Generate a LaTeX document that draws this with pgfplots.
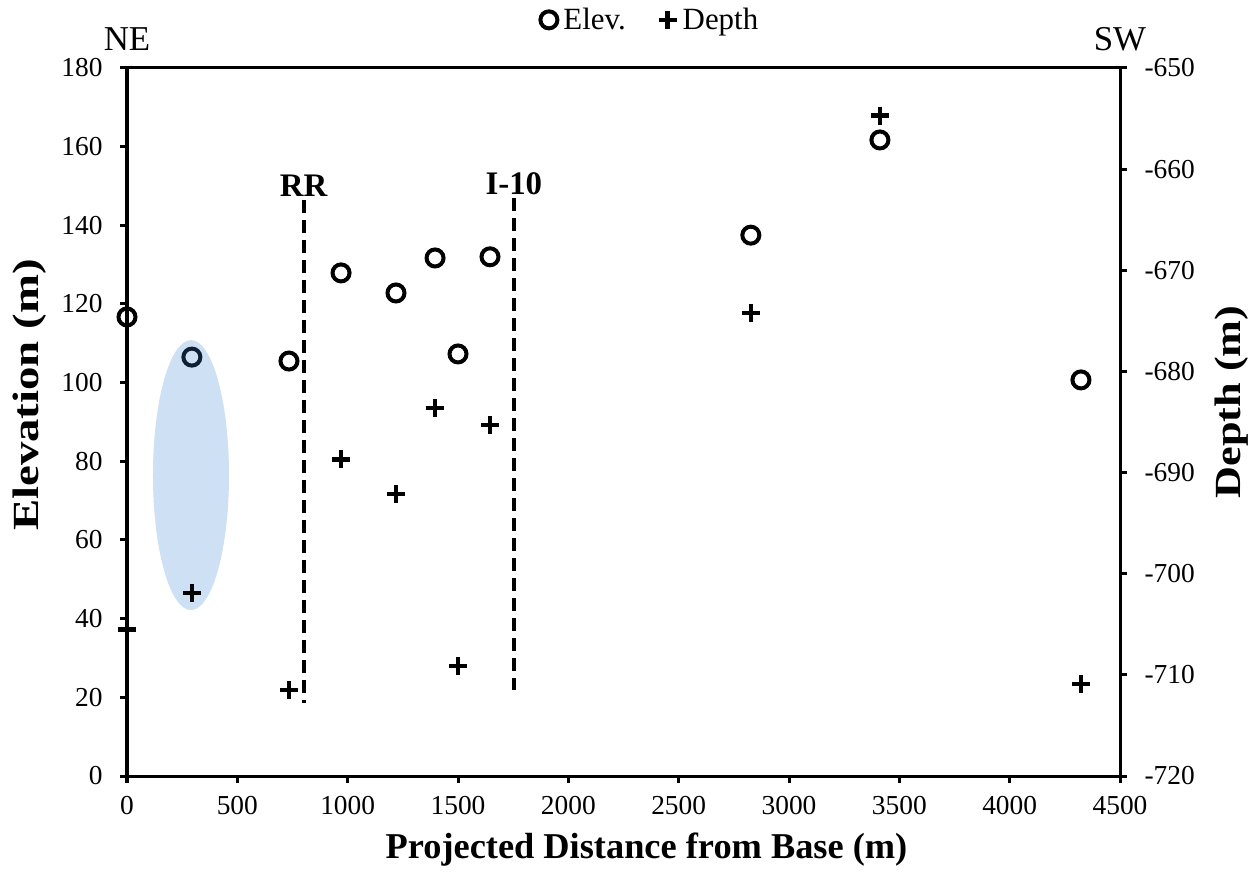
\documentclass[border=0pt]{standalone}
\usepackage{fontspec}
\setmainfont{Liberation Serif}
\usepackage{pgfplots}
\pgfplotsset{compat=1.18}
\definecolor{ellfill}{RGB}{60,130,210}
\begin{document}
\begin{tikzpicture}
\path[use as bounding box] (-127bp,-99bp) rectangle (1130bp,776bp);
\pgfplotsset{
  every axis/.append style={
    scale only axis, width=993bp, height=708bp,
    at={(0,0)}, anchor=south west,
    xmin=0, xmax=4500,
    tick style={line width=3bp, black},
    major tick length=7bp,
    tick align=outside,
    axis line style={line width=3bp},
    tick label style={font=\fontsize{27.5}{29}\selectfont},
    /pgf/number format/assume math mode=true,
    /pgf/number format/1000 sep={},
  },
  elevmark/.style={only marks, mark=o, mark size=8.5bp, mark options={line width=4bp, black}},
  depthmark/.style={only marks, mark=+, mark size=9bp, mark options={line width=4.5bp, black}},
}
\begin{axis}[
  axis y line*=left, axis x line*=bottom,
  ymin=0, ymax=180, ytick={0,20,...,180},
  xtick={0,500,...,4500},
  yticklabel style={xshift=-14bp},
  xticklabel style={yshift=-10bp},
  clip=false,
]
\draw[line width=3bp] (rel axis cs:0,1) -- (rel axis cs:1,1);
\addplot[elevmark] coordinates {
(0,116.7) (294,106.5) (734,105.5) (970,127.9) (1219,122.8) (1396,131.7)
(1500,107.3) (1645,132.0) (2827,137.5) (3412,161.7) (4323,100.7)};
\addplot[black, line width=4bp, dash pattern=on 13bp off 7bp] coordinates {(800,146.4) (800,18.6)};
\addplot[black, line width=4bp, dash pattern=on 13bp off 7bp] coordinates {(1753,146.9) (1753,21.9)};
\node[anchor=south, font=\fontsize{33}{35}\selectfont\bfseries, inner sep=3bp] at (axis cs:800,146.4) {RR};
\node[anchor=south, font=\fontsize{33}{35}\selectfont\bfseries, inner sep=3bp] at (axis cs:1753,146.9) {I-10};
\node[font=\fontsize{35}{37}\selectfont] at ([yshift=29bp]rel axis cs:0,1) {NE};
\node[font=\fontsize{35}{37}\selectfont] at ([yshift=29bp]rel axis cs:1,1) {SW};
\end{axis}
\begin{axis}[
  axis y line*=right, axis x line=none,
  ymin=-720, ymax=-650, ytick={-720,-710,...,-650},
  yticklabels={-720,-710,-700,-690,-680,-670,-660,-650},
  yticklabel style={xshift=14bp},
  legend style={at={(0.527,1.068)}, anchor=center, draw=none, fill=none,
    font=\fontsize{31}{33}\selectfont, legend columns=2,
    /tikz/every even column/.append style={column sep=31bp},
    /tikz/every odd column/.append style={column sep=4bp}},
  legend cell align=left,
]
\addlegendimage{elevmark}
\addlegendentry{Elev.}
\addplot[depthmark] coordinates {
(0,-705.5) (294,-701.9) (734,-711.5) (970,-688.7) (1219,-692.1) (1396,-683.6)
(1500,-709.1) (1645,-685.3) (2827,-674.2) (3412,-654.7) (4323,-710.9)};
\addlegendentry{Depth}
\fill[ellfill, fill opacity=0.25] (axis cs:290,-690.25) ellipse [x radius=38bp, y radius=135bp];
\end{axis}
\node[rotate=90, font=\fontsize{37}{39}\selectfont\bfseries] at (-97bp,381bp) {\scalebox{1.27}[1]{Elevation (m)}};
\node[rotate=90, font=\fontsize{37}{39}\selectfont\bfseries] at (1105bp,374bp) {\scalebox{1.2}[1]{Depth (m)}};
\node[font=\fontsize{36.5}{38}\selectfont\bfseries] at (519.5bp,-74bp) {Projected Distance from Base (m)};
\end{tikzpicture}
\end{document}
